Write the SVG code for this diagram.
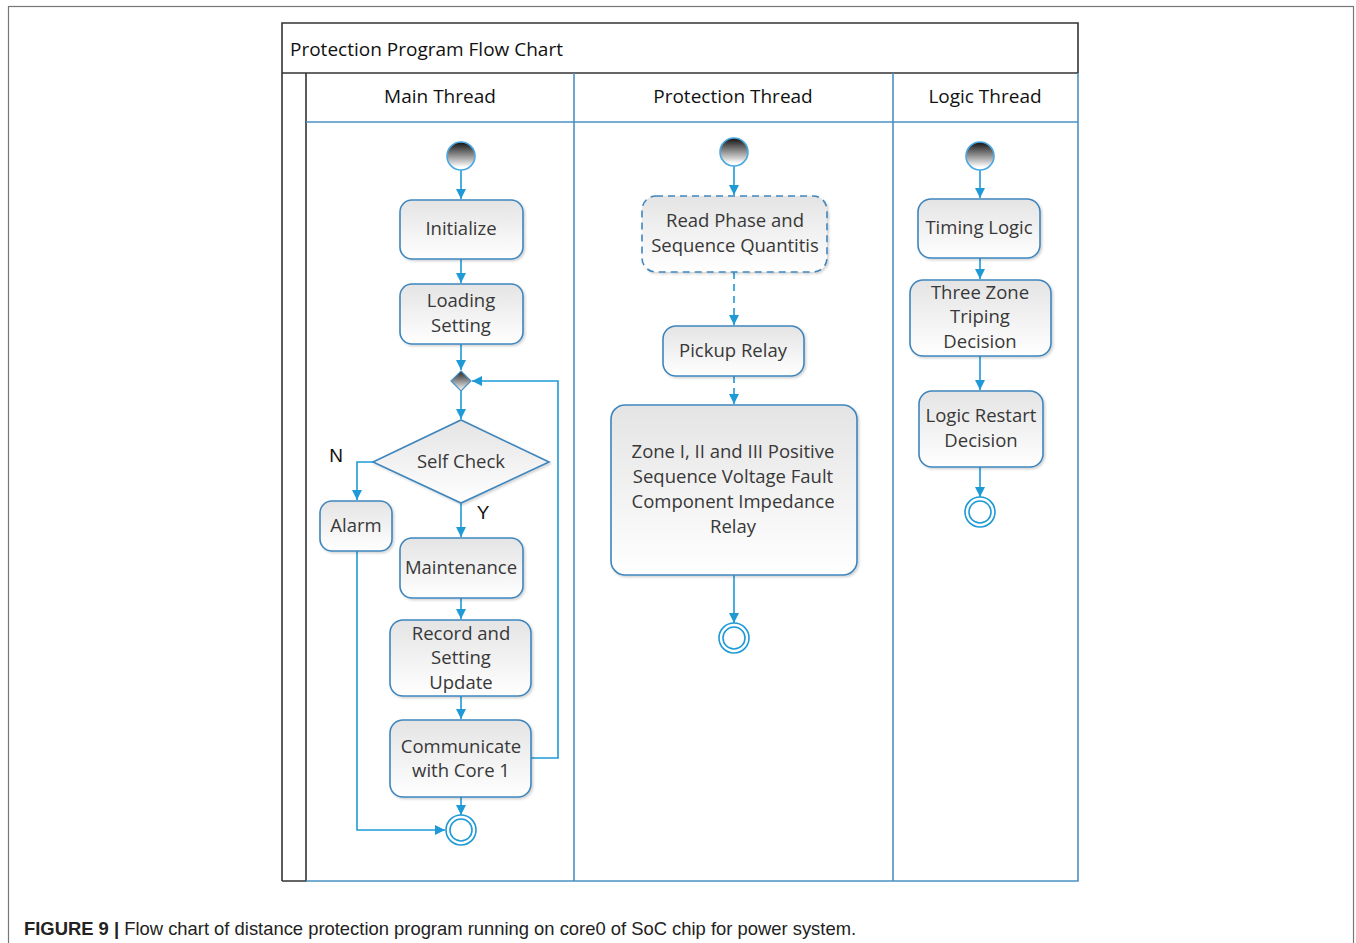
<svg xmlns="http://www.w3.org/2000/svg" width="1356" height="943" viewBox="0 0 1356 943">
<defs>
<linearGradient id="gNode" x1="0" y1="0" x2="0" y2="1">
<stop offset="0" stop-color="#e4e4e4"/>
<stop offset="1" stop-color="#ffffff"/>
</linearGradient>
<linearGradient id="gStart" x1="0" y1="0" x2="0" y2="1">
<stop offset="0" stop-color="#111111"/>
<stop offset="0.9" stop-color="#ffffff"/>
</linearGradient>
<linearGradient id="gDia" x1="0" y1="0" x2="0" y2="1">
<stop offset="0" stop-color="#222222"/>
<stop offset="1" stop-color="#ffffff"/>
</linearGradient>
<filter id="sh" x="-10%" y="-10%" width="130%" height="130%">
<feDropShadow dx="1.5" dy="1.5" stdDeviation="1.2" flood-color="#000" flood-opacity="0.18"/>
</filter>
<marker id="arr" viewBox="0 0 10 10" refX="10" refY="5" markerWidth="10" markerHeight="10" markerUnits="userSpaceOnUse" orient="auto">
<path d="M0,0 L10,5 L0,10 z" fill="#1e9ad6"/>
</marker>
</defs>
<style>
.node{fill:url(#gNode);stroke:#3f86bd;stroke-width:1.6;filter:url(#sh)}
.dash{stroke-dasharray:7 5}
.t{font-family:"Open Sans","Segoe UI","DejaVu Sans",sans-serif;font-size:18.5px;fill:#383838;text-anchor:middle}
.h{font-family:"Open Sans","Segoe UI","DejaVu Sans",sans-serif;font-size:19px;fill:#111;text-anchor:middle}
.c{fill:none;stroke:#1e9ad6;stroke-width:1.6;marker-end:url(#arr)}
.lane{stroke:#4a90c4;stroke-width:1.6;fill:none}
.dark{stroke:#333;stroke-width:1.6;fill:none}
.start{fill:url(#gStart);stroke:#4aa8e0;stroke-width:1.6}
.endo{fill:#fff;stroke:#1e9ad6;stroke-width:1.6}
.yn{font-family:"Liberation Sans",Arial,sans-serif;font-size:19px;fill:#111;text-anchor:middle}
</style>
<rect x="0" y="0" width="1356" height="943" fill="#fff"/>
<rect x="8.5" y="6.5" width="1345" height="960" fill="none" stroke="#777" stroke-width="1.2"/>

<g id="frame">
<rect x="282" y="23" width="796" height="858" fill="#fff" stroke="none"/>
<path class="dark" d="M282,881 V23 H1078 V73"/>
<path class="dark" d="M282,73 H1078"/>
<path class="dark" d="M306,73 V881 H282"/>
<path class="lane" d="M306,122 H1078"/>
<path class="lane" d="M306,881 H1078 V73"/>
<path class="lane" d="M574,73 V881"/>
<path class="lane" d="M893,73 V881"/>
<text x="290" y="56" style="font-family:'Open Sans','Segoe UI',sans-serif;font-size:19px;fill:#111">Protection Program Flow Chart</text>
<text class="h" x="440" y="103">Main Thread</text>
<text class="h" x="733" y="103">Protection Thread</text>
<text class="h" x="985" y="103">Logic Thread</text>
</g>

<g id="connectors">
<path class="c" d="M461,170 V199"/>
<path class="c" d="M461,259 V283"/>
<path class="c" d="M461,344 V370"/>
<path class="c" d="M461,391 V419"/>
<path class="c" d="M373,462 H357 V500"/>
<path class="c" d="M461,503 V537"/>
<path class="c" d="M461,598 V619"/>
<path class="c" d="M461,696 V719"/>
<path class="c" d="M461,797 V815"/>
<path class="c" d="M357,551 V830 H445"/>
<path class="c" d="M531,758 H558 V381 H472"/>
<path class="c" d="M734,166 V195"/>
<path class="c dash" d="M734,272 V325"/>
<path class="c dash" d="M734,376 V404"/>
<path class="c" d="M734,575 V623"/>
<path class="c" d="M980,170 V198"/>
<path class="c" d="M980,258 V279"/>
<path class="c" d="M980,356 V390"/>
<path class="c" d="M980,467 V497"/>
</g>

<g id="main-start"><circle class="start" cx="461" cy="156" r="14"/></g>
<g id="initialize"><rect class="node" x="400" y="200" width="123" height="59" rx="12"/><text class="t" x="461" y="235">Initialize</text></g>
<g id="loading-setting"><rect class="node" x="400" y="284" width="123" height="60" rx="12"/><text class="t" x="461" y="307">Loading</text><text class="t" x="461" y="332">Setting</text></g>
<g id="merge"><path d="M461,371 L471,381 L461,391 L451,381 z" fill="url(#gDia)" stroke="#4a90c4" stroke-width="1.2"/></g>
<g id="self-check"><path class="node" d="M461,420 L549,462 L461,503 L373,462 z"/><text class="t" x="461" y="468">Self Check</text></g>
<g id="label-n"><text class="yn" x="336" y="462">N</text></g>
<g id="label-y"><text class="yn" x="483" y="519">Y</text></g>
<g id="alarm"><rect class="node" x="320" y="501" width="72" height="50" rx="12"/><text class="t" x="356" y="532">Alarm</text></g>
<g id="maintenance"><rect class="node" x="400" y="538" width="123" height="60" rx="12"/><text class="t" x="461" y="574">Maintenance</text></g>
<g id="record"><rect class="node" x="390" y="620" width="141" height="76" rx="13"/><text class="t" x="461" y="640">Record and</text><text class="t" x="461" y="664">Setting</text><text class="t" x="461" y="689">Update</text></g>
<g id="communicate"><rect class="node" x="390" y="720" width="141" height="77" rx="13"/><text class="t" x="461" y="753">Communicate</text><text class="t" x="461" y="777">with Core 1</text></g>
<g id="main-end"><circle class="endo" cx="461" cy="830" r="15"/><circle class="endo" cx="461" cy="830" r="11"/></g>

<g id="prot-start"><circle class="start" cx="734" cy="152" r="14"/></g>
<g id="read-phase"><rect class="node dash" x="642" y="196" width="185" height="76" rx="14"/><text class="t" x="735" y="227">Read Phase and</text><text class="t" x="735" y="252">Sequence Quantitis</text></g>
<g id="pickup"><rect class="node" x="663" y="326" width="141" height="50" rx="13"/><text class="t" x="733" y="357">Pickup Relay</text></g>
<g id="zone"><rect class="node" x="611" y="405" width="246" height="170" rx="14"/><text class="t" x="733" y="458">Zone I, II and III Positive</text><text class="t" x="733" y="483">Sequence Voltage Fault</text><text class="t" x="733" y="508">Component Impedance</text><text class="t" x="733" y="533">Relay</text></g>
<g id="prot-end"><circle class="endo" cx="734" cy="638" r="15"/><circle class="endo" cx="734" cy="638" r="11"/></g>

<g id="logic-start"><circle class="start" cx="980" cy="156" r="14"/></g>
<g id="timing"><rect class="node" x="918" y="199" width="122" height="59" rx="13"/><text class="t" x="979" y="234">Timing Logic</text></g>
<g id="three-zone"><rect class="node" x="910" y="280" width="141" height="76" rx="13"/><text class="t" x="980" y="299">Three Zone</text><text class="t" x="980" y="323">Triping</text><text class="t" x="980" y="348">Decision</text></g>
<g id="restart"><rect class="node" x="919" y="391" width="124" height="76" rx="13"/><text class="t" x="981" y="422">Logic Restart</text><text class="t" x="981" y="447">Decision</text></g>
<g id="logic-end"><circle class="endo" cx="980" cy="512" r="15"/><circle class="endo" cx="980" cy="512" r="11"/></g>

<text x="24" y="935" style="font-family:'Liberation Sans',Arial,sans-serif;font-size:18.4px;fill:#222"><tspan font-weight="bold">FIGURE 9 |</tspan> Flow chart of distance protection program running on core0 of SoC chip for power system.</text>
</svg>
